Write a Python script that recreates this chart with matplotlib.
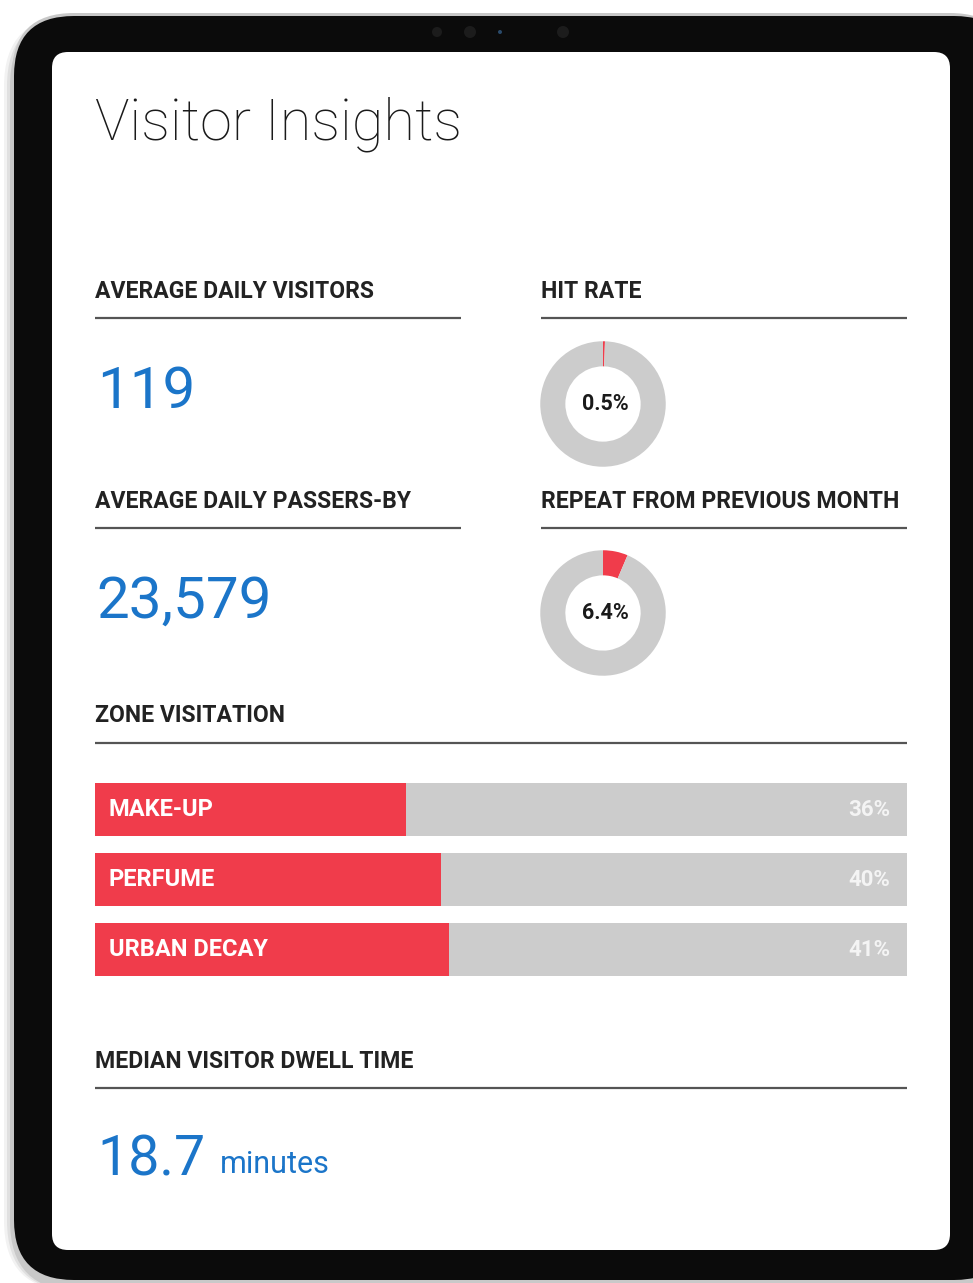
import matplotlib
matplotlib.use("Agg")
import matplotlib.pyplot as plt
from matplotlib.patches import FancyBboxPatch, Circle

# values
avg_daily_visitors = "119"
avg_daily_passers = "23,579"
hit_rate = 0.5
repeat_rate = 6.4
zones = ["MAKE-UP", "PERFUME", "URBAN DECAY"]
zone_pct = [36, 40, 41]
track_max = 94  # bar track length in the same units as zone_pct
dwell_time = "18.7"
dwell_unit = "minutes"

W, H = 973, 1283
RED = "#f03c4b"
GREY = "#cccccc"
BLUE = "#1b75c9"
DARK = "#1a1a1a"
HEAD_FONT = ["Roboto", "DejaVu Sans"]

fig = plt.figure(figsize=(W / 100, H / 100), dpi=100)
bg = fig.add_axes([0, 0, 1, 1])
bg.set_xlim(0, W)
bg.set_ylim(H, 0)
bg.set_axis_off()


def px_axes(x, y, w, h):
    # axes placed in pixel coordinates (top-left origin)
    return fig.add_axes([x / W, 1 - (y + h) / H, w / W, h / H])


# tablet shadow + frame
for i, a in enumerate([0.05, 0.07, 0.1]):
    bg.add_patch(FancyBboxPatch((4 + i * 3, 16), 1000, 1275, boxstyle="round,pad=0,rounding_size=70",
                                fc="#000000", ec="none", alpha=a))
bg.add_patch(FancyBboxPatch((12, 13), 1000, 1268, boxstyle="round,pad=0,rounding_size=62",
                            fc="#c8c8c8", ec="none"))
bg.add_patch(FancyBboxPatch((14, 16), 1000, 1264, boxstyle="round,pad=0,rounding_size=60",
                            fc="#0b0b0b", ec="none"))
bg.add_patch(FancyBboxPatch((52, 52), 898, 1198, boxstyle="round,pad=0,rounding_size=16",
                            fc="white", ec="none"))
for cx, r, c in [(437, 5, "#1c1c1c"), (470, 6, "#1c1c1c"), (500, 2, "#2a4a6a"), (563, 6, "#1c1c1c")]:
    bg.add_patch(Circle((cx, 32), r, fc=c, ec="none"))

# title
bg.text(95, 139, "Visitor Insights", fontsize=41.5, family=HEAD_FONT, weight="light",
        color=DARK, va="baseline", ha="left")


def header(x, y, txt, x2):
    bg.text(x, y, txt, fontsize=16.6, family=HEAD_FONT, weight="bold", color="#222222",
            va="center", ha="left")
    bg.plot([x, x2], [y + 27, y + 27], color="#555555", lw=1.6, solid_capstyle="butt")


header(95, 291, "AVERAGE DAILY VISITORS", 461)
header(541, 291, "HIT RATE", 907)
header(95, 501, "AVERAGE DAILY PASSERS-BY", 461)
header(541, 501, "REPEAT FROM PREVIOUS MONTH", 907)
header(95, 716, "ZONE VISITATION", 907)
header(95, 1061, "MEDIAN VISITOR DWELL TIME", 907)

# big numbers
bg.text(97, 408, avg_daily_visitors, fontsize=42, family=HEAD_FONT, weight="regular",
        color=BLUE, va="baseline", ha="left")
bg.text(96, 618, avg_daily_passers, fontsize=42, family=HEAD_FONT, weight="regular",
        color=BLUE, va="baseline", ha="left")
bg.text(97, 1175, dwell_time, fontsize=40, family=HEAD_FONT, weight="regular",
        color=BLUE, va="baseline", ha="left")
bg.text(220, 1173, dwell_unit, fontsize=22, family=HEAD_FONT, weight="regular",
        color=BLUE, va="baseline", ha="left")


def donut(cx, cy, val):
    ax = px_axes(cx - 64, cy - 64, 128, 128)
    ax.pie([val, 100 - val], colors=[RED, GREY], startangle=90, counterclock=False,
           wedgeprops=dict(width=0.4, edgecolor="none"), radius=1.0)
    ax.set_aspect("equal")
    ax.set_xlim(-1.02, 1.02)
    ax.set_ylim(-1.02, 1.02)
    ax.text(0.03, 0, f"{val}%", ha="center", va="center", fontsize=15.5, family=HEAD_FONT,
            weight="bold", color=DARK)


donut(603, 404, hit_rate)
donut(603, 613, repeat_rate)

# zone bars
bax = px_axes(95, 774.5, 812, 210)
ypos = list(range(len(zones)))
bax.barh(ypos, [track_max] * len(zones), height=0.757, color=GREY, edgecolor="none")
bax.barh(ypos, zone_pct, height=0.757, color=RED, edgecolor="none")
bax.set_xlim(0, track_max)
bax.set_ylim(2.5, -0.5)
bax.set_axis_off()
for yv, name, v in zip(ypos, zones, zone_pct):
    bax.text(1.6, yv, name, color="white", fontsize=17, family=HEAD_FONT, weight="bold",
             va="center", ha="left")
    bax.text(track_max - 1.95, yv, f"{v}%", color="#f4f4f4", fontsize=16, family=HEAD_FONT,
             weight="bold", va="center", ha="right")

fig.savefig("out.png", dpi=100)
